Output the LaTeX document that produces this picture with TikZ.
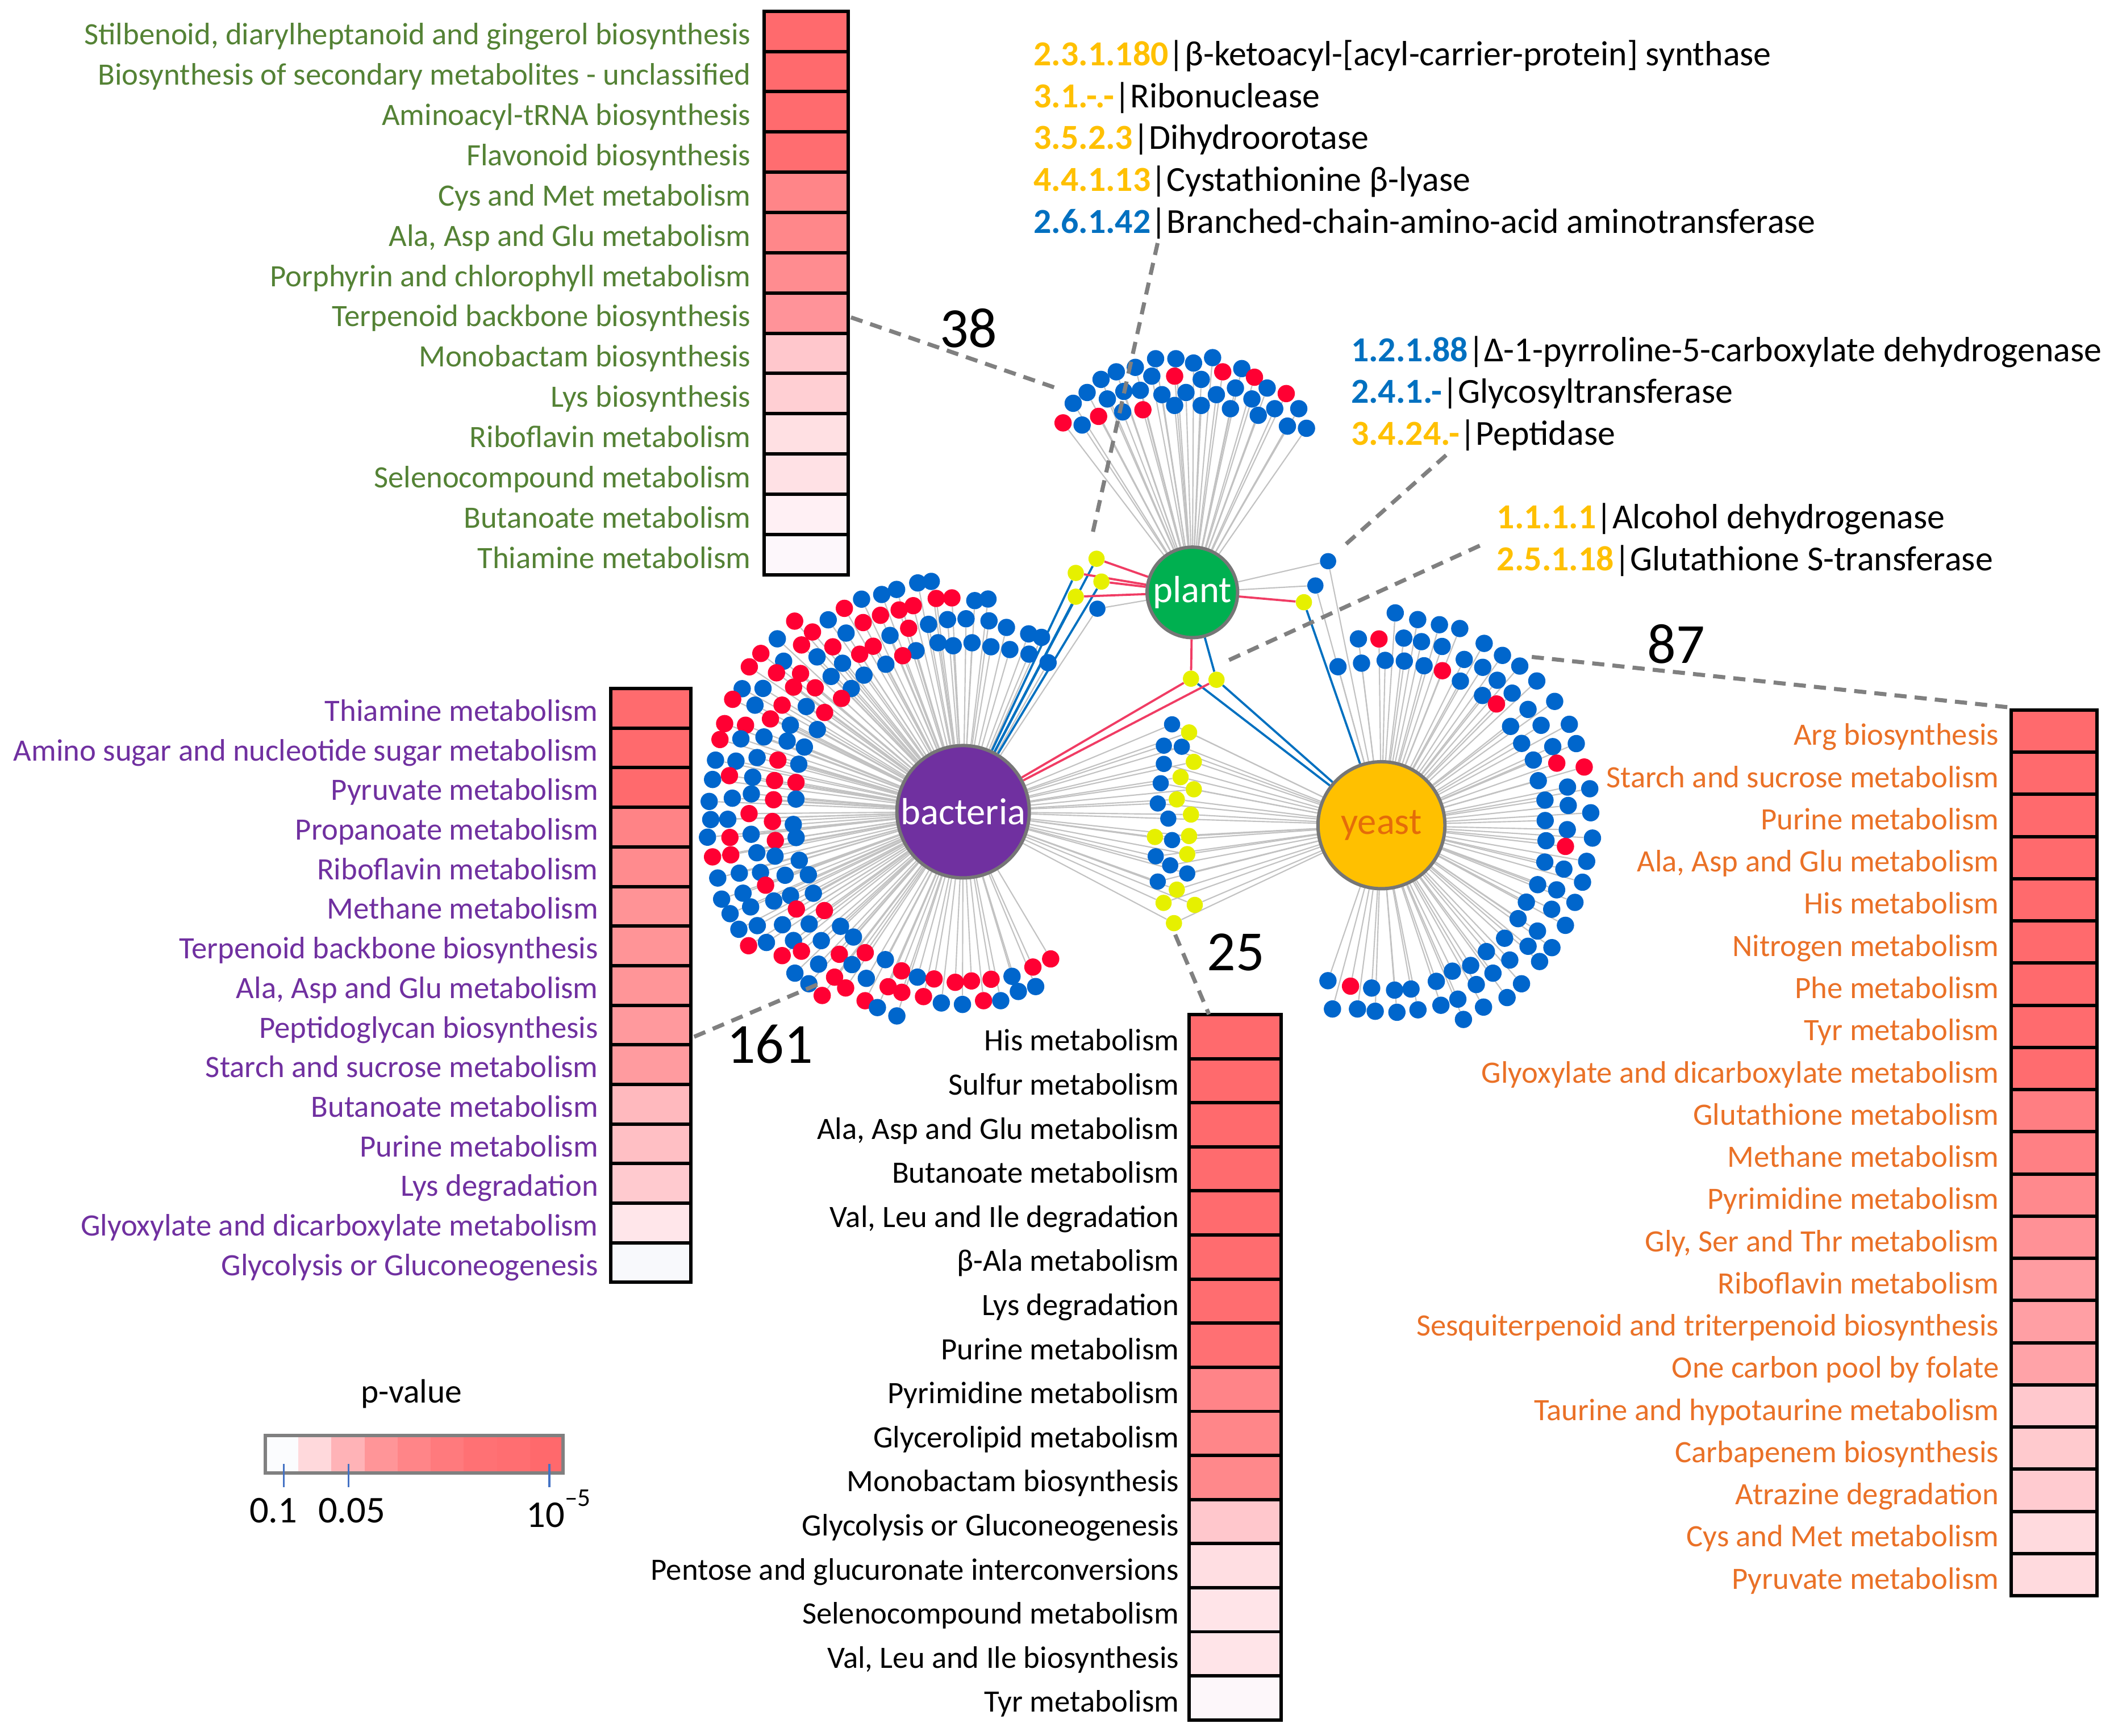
\documentclass[tikz,border=0pt]{standalone}
\usepackage{fontspec}
\setmainfont{Carlito}
\pgfdeclarelayer{bg}
\pgfsetlayers{bg,main}
\definecolor{leafblue}{HTML}{0066CC}
\definecolor{leafred}{HTML}{FF0033}
\definecolor{leafyel}{HTML}{E6F000}
\definecolor{edgegray}{HTML}{C2C2C2}
\definecolor{edgered}{HTML}{F03C64}
\definecolor{edgeblue}{HTML}{0070C0}
\definecolor{dashgray}{HTML}{808080}
\definecolor{legborder}{HTML}{808080}
\definecolor{plantgreen}{HTML}{00B050}
\definecolor{bactpurple}{HTML}{7030A0}
\definecolor{yeastfill}{HTML}{FFC000}
\definecolor{yeasttext}{HTML}{E46C0A}
\definecolor{hubborder}{HTML}{767676}
\definecolor{labgreen}{HTML}{548235}
\definecolor{labpurple}{HTML}{7030A0}
\definecolor{laborange}{HTML}{EA7127}
\definecolor{ecyellow}{HTML}{FFC000}
\definecolor{ecblue}{HTML}{0070C0}
\definecolor{tickblue}{HTML}{4472C4}
\begin{document}
\begin{tikzpicture}[x=1pt,y=-1pt,
  hub/.style={circle, draw=hubborder, line width=2.5pt, inner sep=0pt, font=\fontsize{28}{30}\selectfont},
  leaf/.style={circle, inner sep=0pt, minimum size=12.8pt},
  bl/.style={leaf, fill=leafblue},
  rd/.style={leaf, fill=leafred},
  yl/.style={leaf, fill=leafyel},
  gedge/.style={draw=edgegray, line width=0.9pt},
  redge/.style={draw=edgered, line width=1.6pt},
  bedge/.style={draw=edgeblue, line width=1.6pt},
  lead/.style={draw=dashgray, line width=3pt, dash pattern=on 9pt off 6pt},
  cell/.style={draw=black, line width=2.5pt, inner sep=0pt},
  lab/.style={inner sep=0pt, anchor=base east, font=\fontsize{23}{27}\selectfont},
  ec/.style={inner sep=0pt, anchor=base west, font=\fontsize{26}{30}\selectfont},
  num/.style={inner sep=0pt, font=\fontsize{42}{46}\selectfont},
  leg/.style={inner sep=0pt, font=\fontsize{28}{30}\selectfont},
]
\useasboundingbox (0,0) rectangle (1568,1285);

% ---------- hubs ----------
\node[hub, fill=plantgreen, minimum size=67pt, text=white] (plant) at (882.7,438.6) {plant};
\node[hub, fill=bactpurple, minimum size=98pt, text=white] (bacteria) at (713,601) {bacteria};
\node[hub, fill=yeastfill, minimum size=94pt, text=yeasttext] (yeast) at (1022.7,611) {yeast};

% ---------- plant leaves ----------
\foreach \px/\py/\s [count=\i] in {855.5/265.6/bl, 870.5/265.6/bl, 883.6/268.8/bl, 897.7/264.8/bl, 919.3/272.9/bl,
  826.4/275.3/bl, 840.5/272/bl, 852.7/278.5/bl, 869.6/278.5/rd, 889.3/280.9/bl, 905.2/275.3/rd, 928.7/279.3/rd, 938.1/287.3/bl, 815.1/280.9/bl, 804.8/290.6/bl, 794.5/298.6/bl,
  819.8/295.4/bl, 832/289.8/bl, 844.2/289/bl, 860.2/292.2/bl, 878/290.6/bl, 900.5/292.2/bl, 914.6/287.3/bl, 926.8/295.4/bl, 952.2/291.4/rd,
  787/313.1/rd, 801.1/314.7/bl, 813.3/308.3/rd, 831.1/305/bl, 846.1/303.4/rd, 869.6/300.2/bl, 889.3/300.2/bl, 910.9/302.6/bl, 931.5/307.5/bl, 943.7/302.6/bl, 961.5/302.6/bl, 953.1/315.5/bl, 967.2/317.1/bl} {
  \node[\s] (p\i) at (\px,\py) {};
}

% ---------- bacteria leaves ----------
\pgfmathsetseed{20}
\foreach \k/\r/\aa/\ab/\n in {0/125/57/303/38, 1/141/62/296/40, 2/157/80/255/34, 3/173/95/235/30, 4/189/130/215/19} {
  \foreach \j in {1,...,\n} {
    \pgfmathsetmacro\rr{\r+2.2*rand}
    \pgfmathsetmacro\ang{\aa+(\ab-\aa)*(\j-0.5+0.18*rand)/\n}
    \pgfmathsetmacro\px{713+\rr*cos(\ang)}
    \pgfmathsetmacro\py{601-\rr*sin(\ang)}
    \pgfmathtruncatemacro\isred{rnd<0.42}
    \ifnum\isred=1
      \node[rd] (b\k-\j) at (\px,\py) {};
    \else
      \node[bl] (b\k-\j) at (\px,\py) {};
    \fi
  }
}

% ---------- yeast leaves ----------
\foreach \k/\r/\aa/\ab/\n in {0/122/108/-112/30, 1/139/100/-108/32, 2/156/90/-70/25} {
  \foreach \j in {1,...,\n} {
    \pgfmathsetmacro\rr{\r+2*rand}
    \pgfmathsetmacro\ang{\aa+(\ab-\aa)*(\j-0.5+0.15*rand)/\n}
    \pgfmathsetmacro\px{1022.7+\rr*cos(\ang)}
    \pgfmathsetmacro\py{611-\rr*sin(\ang)}
    \pgfmathtruncatemacro\isred{(\k==0 && (\j==6 || \j==9 || \j==29)) || (\k==1 && (\j==2 || \j==13 || \j==17)) || (\k==2 && \j==12)}
    \ifnum\isred=1
      \node[rd] (y\k-\j) at (\px,\py) {};
    \else
      \node[bl] (y\k-\j) at (\px,\py) {};
    \fi
  }
}

% ---------- middle column (bacteria & yeast) ----------
\foreach \px/\py/\s [count=\i] in {867.7/536.3/bl, 861.6/552.1/bl, 874.9/552.9/bl, 861.6/565.6/bl, 859.3/579.9/bl, 857.1/594.9/bl, 864.9/606.1/bl, 867.7/622/bl, 855.6/634/bl, 866.3/640.7/bl, 878.9/646.7/bl, 857.1/652.7/bl,
  880.3/542.3/yl, 883.8/564.1/yl, 874/575.4/yl, 883.8/584.4/yl, 871.2/591.9/yl, 881.7/603.1/yl, 855/619.7/yl, 880.3/619/yl, 878.9/632.4/yl, 871.2/658.7/yl, 861.4/668.5/yl, 884.5/670/yl, 869.1/683.5/yl} {
  \node[\s, minimum size=12pt] (m\i) at (\px,\py) {};
}

% ---------- shared nodes ----------
\node[yl, minimum size=12pt] (sa1) at (811.8,413.7) {};
\node[yl, minimum size=12pt] (sa2) at (796.4,424.2) {};
\node[yl, minimum size=12pt] (sa3) at (815.4,430.6) {};
\node[yl, minimum size=12pt] (sa4) at (796.4,441.8) {};
\node[bl, minimum size=12pt] (sa5) at (812.4,450.7) {};
\node[bl, minimum size=12pt] (sb1) at (983.2,415.5) {};
\node[bl, minimum size=12pt] (sb2) at (973.8,433.5) {};
\node[yl, minimum size=12pt] (sb3) at (965.3,445.9) {};
\node[yl, minimum size=12pt] (sc1) at (881.7,502.5) {};
\node[yl, minimum size=12pt] (sc2) at (900.6,503.3) {};

% ---------- all edges on background ----------
\begin{pgfonlayer}{bg}
  \foreach \i in {1,...,38} {\draw[gedge] (plant) -- (p\i);}
  \foreach \k/\n in {0/38, 1/40, 2/34, 3/30, 4/19} {
    \foreach \j in {1,...,\n} {\draw[gedge] (bacteria) -- (b\k-\j);}
  }
  \foreach \k/\n in {0/30, 1/32, 2/25} {
    \foreach \j in {1,...,\n} {\draw[gedge] (yeast) -- (y\k-\j);}
  }
  \foreach \i in {1,...,25} {\draw[gedge] (bacteria) -- (m\i); \draw[gedge] (yeast) -- (m\i);}
  \draw[gedge] (plant) -- (sa5); \draw[gedge] (bacteria) -- (sa5);
  \draw[gedge] (plant) -- (sb1); \draw[gedge] (yeast) -- (sb1);
  \draw[gedge] (plant) -- (sb2); \draw[gedge] (yeast) -- (sb2);
  \foreach \n in {sa1,sa2,sa3,sa4} {\draw[redge] (plant) -- (\n); \draw[bedge] (bacteria) -- (\n);}
  \draw[redge] (plant) -- (sb3); \draw[bedge] (yeast) -- (sb3);
  \draw[redge] (plant) -- (sc1); \draw[redge] (bacteria) -- (sc1); \draw[bedge] (yeast) -- (sc1);
  \draw[bedge] (plant) -- (sc2); \draw[redge] (bacteria) -- (sc2); \draw[bedge] (yeast) -- (sc2);
\end{pgfonlayer}

% ---------- heatmaps ----------
\foreach \lbl/\hc [count=\i] in {{Stilbenoid, diarylheptanoid and gingerol biosynthesis}/FF6A6D, {Biosynthesis of secondary metabolites - unclassified}/FF6A6D, {Aminoacyl-tRNA biosynthesis}/FF6B6E, {Flavonoid biosynthesis}/FF6D70, {Cys and Met metabolism}/FF8588, {Ala, Asp and Glu metabolism}/FF878A, {Porphyrin and chlorophyll metabolism}/FF8C90, {Terpenoid backbone biosynthesis}/FF9399, {Monobactam biosynthesis}/FFC7CC, {Lys biosynthesis}/FFCFD3, {Riboflavin metabolism}/FFE0E3, {Selenocompound metabolism}/FFE1E5, {Butanoate metabolism}/FFF0F4, {Thiamine metabolism}/FDF7FB} {
  \edef\tmp{\noexpand\definecolor{cc}{HTML}{\hc}}\tmp
  \pgfmathsetmacro\yc{8.3+29.8*(\i-0.5)}
  \node[cell, fill=cc, minimum width=62.4pt, minimum height=29.8pt] (g\i) at (596.8,\yc) {};
  \node[lab, text=labgreen] (gl\i) at (556,\yc+10) {\lbl};
}
\foreach \lbl/\hc [count=\i] in {{Thiamine metabolism}/FF6B6E, {Amino sugar and nucleotide sugar metabolism}/FF6A6D, {Pyruvate metabolism}/FF6A6D, {Propanoate metabolism}/FF8386, {Riboflavin metabolism}/FF8B8E, {Methane metabolism}/FF9396, {Terpenoid backbone biosynthesis}/FF9497, {Ala, Asp and Glu metabolism}/FF9598, {Peptidoglycan biosynthesis}/FF999D, {Starch and sucrose metabolism}/FF9B9F, {Butanoate metabolism}/FFB9BE, {Purine metabolism}/FFBFC4, {Lys degradation}/FFCACF, {Glyoxylate and dicarboxylate metabolism}/FFE6EA, {Glycolysis or Gluconeogenesis}/F8F9FC} {
  \edef\tmp{\noexpand\definecolor{cc}{HTML}{\hc}}\tmp
  \pgfmathsetmacro\yc{509.8+29.31*(\i-0.5)}
  \node[cell, fill=cc, minimum width=59.6pt, minimum height=29.31pt] (u\i) at (481.8,\yc) {};
  \node[lab, text=labpurple] (ul\i) at (443,\yc+9.5) {\lbl};
}
\foreach \lbl/\hc [count=\i] in {{His metabolism}/FF6A6D, {Sulfur metabolism}/FF6A6D, {Ala, Asp and Glu metabolism}/FF6A6D, {Butanoate metabolism}/FF6B6E, {Val, Leu and Ile degradation}/FF6B6E, {β-Ala metabolism}/FF6C6F, {Lys degradation}/FF6D70, {Purine metabolism}/FF7073, {Pyrimidine metabolism}/FF8488, {Glycerolipid metabolism}/FF8689, {Monobactam biosynthesis}/FF888B, {Glycolysis or Gluconeogenesis}/FFC7CC, {Pentose and glucuronate interconversions}/FFDEE2, {Selenocompound metabolism}/FFE4E8, {Val, Leu and Ile biosynthesis}/FFE4E8, {Tyr metabolism}/FDF7FA} {
  \edef\tmp{\noexpand\definecolor{cc}{HTML}{\hc}}\tmp
  \pgfmathsetmacro\yc{751.2+32.64*(\i-0.5)}
  \node[cell, fill=cc, minimum width=68pt, minimum height=32.64pt] (k\i) at (914.3,\yc) {};
  \node[lab, text=black] (kl\i) at (873,\yc+10.5) {\lbl};
}
\foreach \lbl/\hc [count=\i] in {{Arg biosynthesis}/FF6A6D, {Starch and sucrose metabolism}/FF6A6D, {Purine metabolism}/FF6A6D, {Ala, Asp and Glu metabolism}/FF6A6D, {His metabolism}/FF6A6D, {Nitrogen metabolism}/FF6A6D, {Phe metabolism}/FF6A6D, {Tyr metabolism}/FF6B6E, {Glyoxylate and dicarboxylate metabolism}/FF6C6F, {Glutathione metabolism}/FF7E82, {Methane metabolism}/FF8084, {Pyrimidine metabolism}/FF898D, {Gly, Ser and Thr metabolism}/FF9196, {Riboflavin metabolism}/FF9CA1, {Sesquiterpenoid and triterpenoid biosynthesis}/FF9FA4, {One carbon pool by folate}/FFA3A8, {Taurine and hypotaurine metabolism}/FFC8CD, {Carbapenem biosynthesis}/FFCACE, {Atrazine degradation}/FFCBD0, {Cys and Met metabolism}/FFDADE, {Pyruvate metabolism}/FFDADE} {
  \edef\tmp{\noexpand\definecolor{cc}{HTML}{\hc}}\tmp
  \pgfmathsetmacro\yc{525.7+31.23*(\i-0.5)}
  \node[cell, fill=cc, minimum width=63.4pt, minimum height=31.23pt] (o\i) at (1520.7,\yc) {};
  \node[lab, text=laborange] (ol\i) at (1480,\yc+10.5) {\lbl};
}

% ---------- enzyme lists ----------
\node[ec] (e1) at (765,48.5) {\textcolor{ecyellow}{\bfseries 2.3.1.180}|β-ketoacyl-[acyl-carrier-protein] synthase};
\node[ec] (e2) at (765,79.5) {\textcolor{ecyellow}{\bfseries 3.1.-.-}|Ribonuclease};
\node[ec] (e3) at (765,110.5) {\textcolor{ecyellow}{\bfseries 3.5.2.3}|Dihydroorotase};
\node[ec] (e4) at (765,141.5) {\textcolor{ecyellow}{\bfseries 4.4.1.13}|Cystathionine β-lyase};
\node[ec] (e5) at (765,172.5) {\textcolor{ecblue}{\bfseries 2.6.1.42}|Branched-chain-amino-acid aminotransferase};
\node[ec] (e6) at (1000,267.5) {\textcolor{ecblue}{\bfseries 1.2.1.88}|Δ-1-pyrroline-5-carboxylate dehydrogenase};
\node[ec] (e7) at (1000,298.5) {\textcolor{ecblue}{\bfseries 2.4.1.-}|Glycosyltransferase};
\node[ec] (e8) at (1000,329.5) {\textcolor{ecyellow}{\bfseries 3.4.24.-}|Peptidase};
\node[ec] (e9) at (1108,391.5) {\textcolor{ecyellow}{\bfseries 1.1.1.1}|Alcohol dehydrogenase};
\node[ec] (e10) at (1108,422.5) {\textcolor{ecyellow}{\bfseries 2.5.1.18}|Glutathione S-transferase};

% ---------- counts ----------
\node[num] (n38) at (717,243) {38};
\node[num] (n87) at (1241,477) {87};
\node[num] (n161) at (570,773) {161};
\node[num] (n25) at (915,705) {25};

% ---------- leader lines ----------
\coordinate (d1a) at (630,235);   \coordinate (d1b) at (781,287);
\coordinate (d2a) at (857,180);   \coordinate (d2b) at (808.6,396);
\coordinate (d3a) at (1070.6,337); \coordinate (d3b) at (994,405);
\coordinate (d4a) at (1095.5,404); \coordinate (d4b) at (907,490);
\coordinate (d5a) at (1134,486.4); \coordinate (d5b) at (1490,524);
\coordinate (d6a) at (605,729);   \coordinate (d6b) at (513,768);
\coordinate (d7a) at (870,692);   \coordinate (d7b) at (895,751);
\draw[lead] (d1a) -- (d1b);
\draw[lead] (d2a) -- (d2b);
\draw[lead] (d3a) -- (d3b);
\draw[lead] (d4a) -- (d4b);
\draw[lead] (d5a) -- (d5b);
\draw[lead] (d6a) -- (d6b);
\draw[lead] (d7a) -- (d7b);

% ---------- legend ----------
\node[inner sep=0pt, font=\fontsize{25}{28}\selectfont] (pv) at (304.6,1032) {p-value};
\foreach \hc [count=\i] in {FBFCFE,FFD9DC,FFB3B7,FF9598,FF8588,FF7A7D,FF7174,FF6E71,FF696C} {
  \edef\tmp{\noexpand\definecolor{segc}{HTML}{\hc}}\tmp
  \fill[segc] ({196.4+24.49*(\i-1)},1063) rectangle ({196.4+24.49*\i},1090.5);
}
\draw[draw=legborder, line width=2.5pt] (196.4,1063) rectangle (416.8,1090.5);
\foreach \tx in {210,258,406.6} {\draw[draw=tickblue, line width=1.5pt] (\tx,1084) -- (\tx,1101);}
\node[leg] (l1) at (202.4,1118.6) {0.1};
\node[leg] (l2) at (260.4,1118.6) {0.05};
\node[leg] (l3) at (413.5,1117) {10\raisebox{0.55em}{\fontsize{19}{20}\selectfont –5}};
\end{tikzpicture}
\end{document}
